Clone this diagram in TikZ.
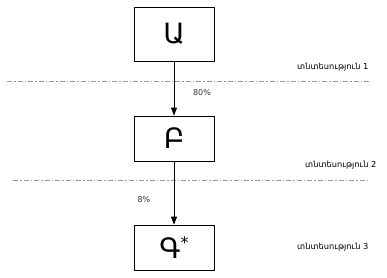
\documentclass[tikz,border=0pt]{standalone}
\usepackage{fontspec}
\setmainfont{DejaVu Sans}
\usetikzlibrary{arrows.meta}
\begin{document}
\begin{tikzpicture}[x=1pt,y=-1pt,
  box/.style={draw,line width=0.8pt,minimum width=80pt,minimum height=54pt,inner sep=0pt,font=\fontsize{28}{30}\selectfont},
  sep/.style={draw=gray!80,line width=0.9pt,dash pattern=on 5pt off 2pt on 1.5pt off 2pt},
  lab/.style={font=\fontsize{8.3}{10}\selectfont,inner sep=0pt,anchor=west},
  pct/.style={font=\fontsize{8}{10}\selectfont,inner sep=0pt,text=black!80},
  arr/.style={line width=0.8pt,-{Triangle[length=8pt,width=6pt]}}]
\useasboundingbox (0,0) rectangle (387,277);
\node[box] (A) at (174,34) {Ա};
\node[box,minimum height=45pt] (B) at (174,138.5) {Բ};
\node[box,minimum height=45pt] (C) at (174,247.5) {Գ\raisebox{0.35em}{\fontsize{16}{16}\selectfont *}};
\coordinate (l1a) at (7,81); \coordinate (l1b) at (370,81);
\coordinate (l2a) at (13,180.5); \coordinate (l2b) at (370,180.5);
\draw[sep] (l1a) -- (l1b);
\draw[sep] (l2a) -- (l2b);
\draw[arr] (A.south) -- (B.north);
\draw[arr] (B.south) -- (C.north);
\node[pct] (p1) at (202,93) {80\%};
\node[pct] (p2) at (144,200) {8\%};
\node[lab] (t1) at (297,67) {տնտեսություն 1};
\node[lab] (t2) at (305,165) {տնտեսություն 2};
\node[lab] (t3) at (297,247) {տնտեսություն 3};
\end{tikzpicture}
\end{document}
